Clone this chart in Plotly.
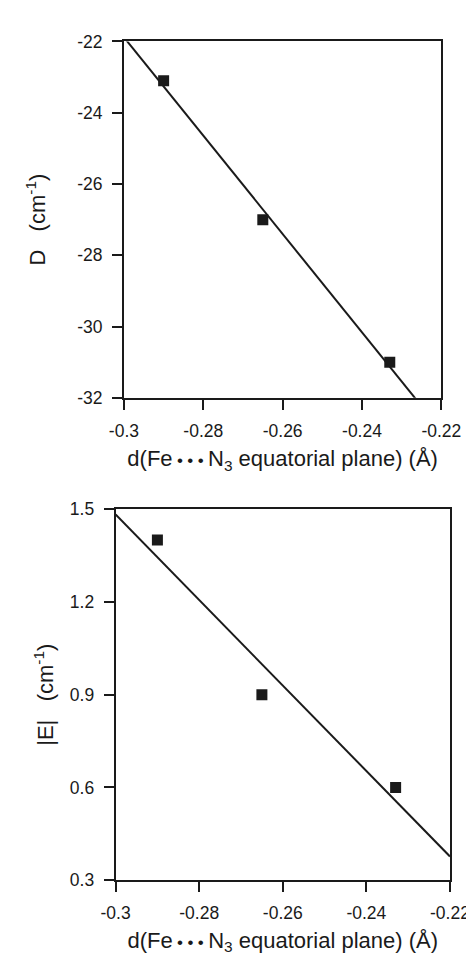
import numpy as np
import plotly.graph_objects as go

# ---- data ----
d_plane = [-0.290, -0.265, -0.233]          # d(Fe···N3 equatorial plane) (Å)
D_vals = [-23.1, -27.0, -31.0]               # D (cm-1)
E_vals = [1.40, 0.90, 0.60]                  # |E| (cm-1)

x_ticks = [-0.30, -0.28, -0.26, -0.24, -0.22]
x_tick_labels = ["-0.3", "-0.28", "-0.26", "-0.24", "-0.22"]
D_ticks = [-32, -30, -28, -26, -24, -22]
D_tick_labels = ["-32", "-30", "-28", "-26", "-24", "-22"]
E_ticks = [0.3, 0.6, 0.9, 1.2, 1.5]
E_tick_labels = ["0.3", "0.6", "0.9", "1.2", "1.5"]

x_range = [-0.30, -0.22]
D_range = [-32, -22]
E_range = [0.3, 1.5]

# linear regression lines (computed from the data)
cD = np.polyfit(d_plane, D_vals, 1)
cE = np.polyfit(d_plane, E_vals, 1)
fit_x = np.array(x_range)
fit_D = np.polyval(cD, fit_x)
fit_E = np.polyval(cE, fit_x)

INK = "#1a1a1a"
FONT = "Liberation Sans, Arial, Helvetica, sans-serif"
W, H = 474, 955

fig = go.Figure()
fig.add_trace(go.Scatter(x=fit_x, y=fit_D, mode="lines", line=dict(color=INK, width=2),
                         xaxis="x", yaxis="y", showlegend=False, hoverinfo="skip"))
fig.add_trace(go.Scatter(x=d_plane, y=D_vals, mode="markers",
                         marker=dict(symbol="square", size=11, color=INK),
                         xaxis="x", yaxis="y", showlegend=False))
fig.add_trace(go.Scatter(x=fit_x, y=fit_E, mode="lines", line=dict(color=INK, width=2),
                         xaxis="x2", yaxis="y2", showlegend=False, hoverinfo="skip"))
fig.add_trace(go.Scatter(x=d_plane, y=E_vals, mode="markers",
                         marker=dict(symbol="square", size=11, color=INK),
                         xaxis="x2", yaxis="y2", showlegend=False))

dot = "<span style=\"font-size:17px\">\u2022</span>"
xtitle = ("d(Fe\u2009" + dot + "\u2009" + dot + "\u2009" + dot + "\u2009N<sub>3</sub>"
          "\u00a0equatorial plane) (Å)")
ytitle_D = "D\u00a0\u00a0\u00a0(cm<sup>-1</sup>)"
ytitle_E = "|E|\u00a0\u00a0\u00a0(cm<sup>-1</sup>)"

common_axis = dict(showline=True, linecolor=INK, linewidth=2, mirror=True,
                   ticks="outside", ticklen=10, tickwidth=1.8, tickcolor=INK,
                   showgrid=False, zeroline=False,
                   tickfont=dict(size=17.5, color=INK, family=FONT))

fig.update_layout(
    width=W, height=H,
    margin=dict(l=0, r=0, t=0, b=0),
    paper_bgcolor="white", plot_bgcolor="white",
    font=dict(family=FONT, color=INK),
    xaxis=dict(domain=[109 / W, 451.7 / W], anchor="y", range=x_range,
               tickvals=x_ticks, ticktext=x_tick_labels,
               title=dict(text=xtitle, font=dict(size=22, color=INK), standoff=11),
               ticklabelstandoff=6,
               **common_axis),
    yaxis=dict(domain=[1 - 388 / H, 1 - 24 / H], anchor="x", range=D_range,
               tickvals=D_ticks, ticktext=D_tick_labels,
               title=dict(text=ytitle_D, font=dict(size=22, color=INK), standoff=25),
               ticklabelstandoff=6,
               **common_axis),
    xaxis2=dict(domain=[100 / W, 461 / W], anchor="y2", range=x_range,
                tickvals=x_ticks, ticktext=x_tick_labels,
                title=dict(text=xtitle, font=dict(size=22, color=INK), standoff=10),
                ticklabelstandoff=6,
                **common_axis),
    yaxis2=dict(domain=[1 - 880.7 / H, 1 - 501.7 / H], anchor="x2", range=E_range,
                tickvals=E_ticks, ticktext=E_tick_labels,
                title=dict(text=ytitle_E, font=dict(size=22, color=INK), standoff=10),
                ticklabelstandoff=6,
                **common_axis),
)

fig.write_html("out.html")
